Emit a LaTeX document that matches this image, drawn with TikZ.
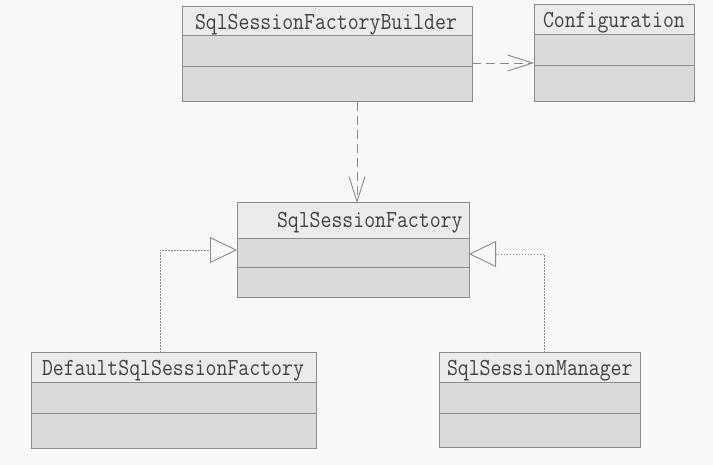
\documentclass[tikz,border=0pt]{standalone}
\usepackage{fontspec}
\newfontfamily\umlfont[FakeStretch=0.865]{Latin Modern Mono}
\usetikzlibrary{arrows.meta}
\definecolor{bg}{HTML}{F8F8F8}
\definecolor{titlefill}{HTML}{EBEBEB}
\definecolor{lowfill}{HTML}{DADADA}
\definecolor{boxgray}{HTML}{8C8C8C}
\definecolor{linegray}{HTML}{8A8A8A}
\definecolor{textgray}{HTML}{424242}
\tikzset{
  classbox/.style={draw=boxgray, fill=lowfill, line width=1pt, inner sep=0pt, outer sep=0pt},
  titlearea/.style={fill=titlefill},
  sepline/.style={draw=boxgray, line width=1pt},
  boxline/.style={draw=boxgray, line width=1pt},
  classname/.style={anchor=base west, inner sep=0pt, outer sep=0pt, text=textgray,
    font=\fontsize{24.5}{24.5}\selectfont\umlfont},
  dep/.style={draw=linegray, line width=0.9pt, dash pattern=on 9pt off 5pt,
    -{Straight Barb[length=25pt,width=16pt,line width=0.9pt]}},
  real/.style={draw=linegray, line width=0.9pt, dash pattern=on 1.5pt off 1.5pt,
    -{Triangle[open,length=27pt,width=26pt,line width=0.9pt]}}
}
\newcommand\umlclass[7]{%
  \node[classbox, minimum width={(#4-#2)*1pt}, minimum height={(#5-#3)*1pt}]
    (#1) at ({(#2+#4)/2},{(#3+#5)/2}) {};
  \fill[titlearea] (#1.north west) rectangle (#4,#6);
  \draw[sepline] (#2,#6) -- (#4,#6) (#2,#7) -- (#4,#7);
  \draw[boxline] (#1.north west) rectangle (#1.south east);
}
\begin{document}
\begin{tikzpicture}[x=1pt,y=-1pt]
\fill[bg] (0,0) rectangle (713,465);
\useasboundingbox (0,0) rectangle (713,465);

\umlclass{builder}{182}{7}{472}{102}{36}{67}
\node[classname] (builder-name) at (195,30) {SqlSessionFactoryBuilder};

\umlclass{config}{534}{5}{694}{102}{35}{66}
\node[classname] (config-name) at (543,28) {Configuration};

\umlclass{factory}{237}{203}{469}{298}{239}{268}
\node[classname] (factory-name) at (277,228) {SqlSessionFactory};

\umlclass{default}{31}{353}{316}{448}{383}{413}
\node[classname] (default-name) at (42,375) {DefaultSqlSessionFactory};

\umlclass{manager}{439}{353}{640}{447}{383}{413}
\node[classname] (manager-name) at (447,375) {SqlSessionManager};

\coordinate (dy) at (0,63);
\draw[dep] (builder.east |- dy) -- (config.west |- dy);
\coordinate (vx) at (357,0);
\draw[dep] (builder.south -| vx) -- (factory.north -| vx);
\coordinate (lc) at (160,250);
\draw[real] (default.north -| lc) |- (factory.west |- lc);
\coordinate (rc) at (544,254);
\draw[real] (manager.north -| rc) |- (factory.east |- rc);
\end{tikzpicture}
\end{document}
